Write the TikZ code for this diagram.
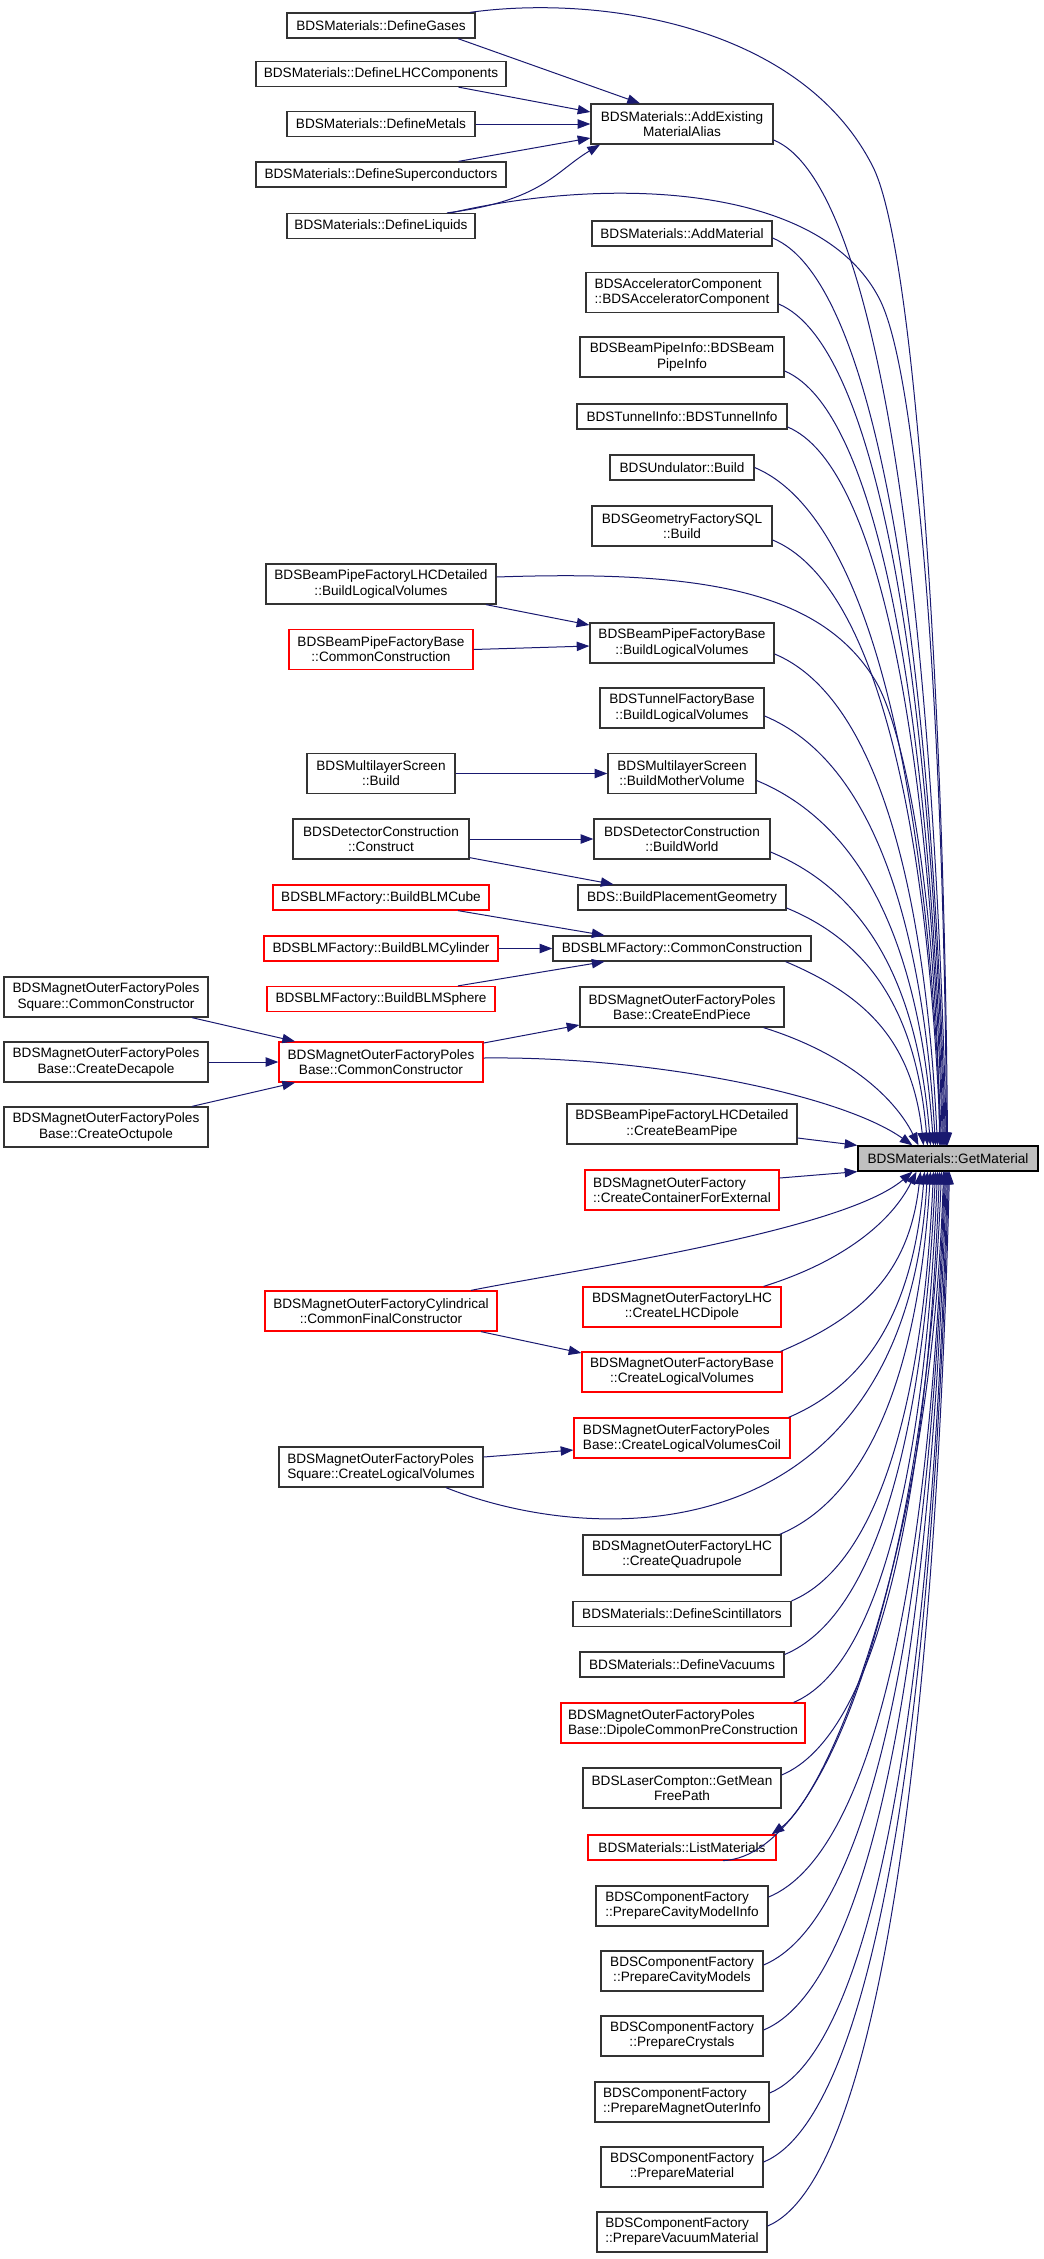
\documentclass[tikz,border=0pt]{standalone}
\usepackage{fontspec}
\setmainfont{Liberation Sans}
\usetikzlibrary{arrows.meta,calc}
\definecolor{mblue}{RGB}{25,25,112}
\newcommand\dfont{\fontsize{10.2}{11.3}\selectfont}
\tikzset{
  fn/.style={draw=black!80, line width=0.95pt, fill=white, inner sep=0pt, align=center, font=\dfont, text=black},
  rd/.style={fn, draw=red},
  sg/.style={minimum height=18.75pt},
  db/.style={minimum height=30pt},
  wd/.style={minimum width=#1*0.75pt},
  ed/.style={draw=mblue, line width=0.75pt, -{Triangle[length=9.5pt,width=7pt]}},
}
\begin{document}
\begin{tikzpicture}[x=0.75pt,y=-0.75pt]
\useasboundingbox (0,0) rectangle (1043,2259);
% ---- nodes
\node[fn,sg,wd=188] (dg) at (381,25.5) {BDSMaterials::DefineGases};
\node[fn,sg,wd=250] (dlhc) at (381,74) {BDSMaterials::DefineLHCComponents};
\node[fn,sg,wd=188] (dmet) at (381,124) {BDSMaterials::DefineMetals};
\node[fn,sg,wd=250] (dsup) at (381,174.5) {BDSMaterials::DefineSuperconductors};
\node[fn,sg,wd=188] (dliq) at (381,226) {BDSMaterials::DefineLiquids};
\node[fn,db,wd=182] (ae) at (682,124) {BDSMaterials::AddExisting\\MaterialAlias};
\node[fn,sg,wd=180] (am) at (682,233.5) {BDSMaterials::AddMaterial};
\node[fn,db,wd=192,align=left] (acc) at (682,292.5) {BDSAcceleratorComponent\\::BDSAcceleratorComponent};
\node[fn,db,wd=204] (bpi) at (682,357) {BDSBeamPipeInfo::BDSBeam\\PipeInfo};
\node[fn,sg,wd=210] (ti) at (682,416.5) {BDSTunnelInfo::BDSTunnelInfo};
\node[fn,sg,wd=144] (und) at (682,467.5) {BDSUndulator::Build};
\node[fn,db,wd=180] (gsql) at (682,526) {BDSGeometryFactorySQL\\::Build};
\node[fn,db,wd=230] (lhcblv) at (381,584) {BDSBeamPipeFactoryLHCDetailed\\::BuildLogicalVolumes};
\node[rd,db,wd=184] (bpfcc) at (381,649.5) {BDSBeamPipeFactoryBase\\::CommonConstruction};
\node[fn,db,wd=184] (bpfb) at (682,643) {BDSBeamPipeFactoryBase\\::BuildLogicalVolumes};
\node[fn,db,wd=164] (tfb) at (682,708) {BDSTunnelFactoryBase\\::BuildLogicalVolumes};
\node[fn,db,wd=148] (mlsb) at (381,773.5) {BDSMultilayerScreen\\::Build};
\node[fn,db,wd=148] (mlsbmv) at (682,773.5) {BDSMultilayerScreen\\::BuildMotherVolume};
\node[fn,db,wd=176] (dcc) at (381,839) {BDSDetectorConstruction\\::Construct};
\node[fn,db,wd=176] (bw) at (682,839) {BDSDetectorConstruction\\::BuildWorld};
\node[rd,sg,wd=216] (cube) at (381,897.5) {BDSBLMFactory::BuildBLMCube};
\node[fn,sg,wd=208] (bpg) at (682,897.5) {BDS::BuildPlacementGeometry};
\node[rd,sg,wd=234] (cyl) at (381,948.5) {BDSBLMFactory::BuildBLMCylinder};
\node[fn,sg,wd=258] (blmcc) at (682,948.5) {BDSBLMFactory::CommonConstruction};
\node[rd,sg,wd=228] (sph) at (381,999) {BDSBLMFactory::BuildBLMSphere};
\node[fn,db,wd=204] (sqcc) at (106,997) {BDSMagnetOuterFactoryPoles\\Square::CommonConstructor};
\node[fn,db,wd=204] (dec) at (106,1062) {BDSMagnetOuterFactoryPoles\\Base::CreateDecapole};
\node[fn,db,wd=204] (oct) at (106,1127) {BDSMagnetOuterFactoryPoles\\Base::CreateOctupole};
\node[rd,db,wd=204] (mopcc) at (381,1062) {BDSMagnetOuterFactoryPoles\\Base::CommonConstructor};
\node[fn,db,wd=204] (cep) at (682,1007) {BDSMagnetOuterFactoryPoles\\Base::CreateEndPiece};
\node[fn,db,wd=230] (cbp) at (682,1124) {BDSBeamPipeFactoryLHCDetailed\\::CreateBeamPipe};
\node[fn,sg,wd=180,draw=black,fill={rgb,255:red,191;green,191;blue,191}] (gm) at (948,1158.5) {BDSMaterials::GetMaterial};
\node[rd,db,wd=194,align=left] (ccfe) at (682,1190) {BDSMagnetOuterFactory\\::CreateContainerForExternal};
\node[rd,db,wd=232] (cfc) at (381,1311) {BDSMagnetOuterFactoryCylindrical\\::CommonFinalConstructor};
\node[rd,db,wd=198] (lhcd) at (682,1307) {BDSMagnetOuterFactoryLHC\\::CreateLHCDipole};
\node[rd,db,wd=200] (mofbclv) at (682,1372) {BDSMagnetOuterFactoryBase\\::CreateLogicalVolumes};
\node[rd,db,wd=216,align=left] (clvc) at (682,1438) {BDSMagnetOuterFactoryPoles\\Base::CreateLogicalVolumesCoil};
\node[fn,db,wd=204,align=left] (sqclv) at (381,1467) {BDSMagnetOuterFactoryPoles\\Square::CreateLogicalVolumes};
\node[fn,db,wd=198] (cq) at (682,1555) {BDSMagnetOuterFactoryLHC\\::CreateQuadrupole};
\node[fn,sg,wd=218] (dsc) at (682,1614) {BDSMaterials::DefineScintillators};
\node[fn,sg,wd=204] (dvac) at (682,1664.5) {BDSMaterials::DefineVacuums};
\node[rd,db,wd=244,align=left] (dcpc) at (683,1723) {BDSMagnetOuterFactoryPoles\\Base::DipoleCommonPreConstruction};
\node[fn,db,wd=198] (gmfp) at (682,1788) {BDSLaserCompton::GetMean\\FreePath};
\node[rd,sg,wd=188] (lm) at (682,1847.5) {BDSMaterials::ListMaterials};
\node[fn,db,wd=172,align=left] (pcmi) at (682,1906) {BDSComponentFactory\\::PrepareCavityModelInfo};
\node[fn,db,wd=162] (pcm) at (682,1971) {BDSComponentFactory\\::PrepareCavityModels};
\node[fn,db,wd=162] (pcr) at (682,2036) {BDSComponentFactory\\::PrepareCrystals};
\node[fn,db,wd=174,align=left] (pmoi) at (682,2102) {BDSComponentFactory\\::PrepareMagnetOuterInfo};
\node[fn,db,wd=162] (pmat) at (682,2167) {BDSComponentFactory\\::PrepareMaterial};
\node[fn,db,wd=170,align=left] (pvm) at (682,2232) {BDSComponentFactory\\::PrepareVacuumMaterial};
% ---- edges into AddExistingMaterialAlias
\draw[ed] ($(dg.south)+(77,0)$) -- ($(ae.north)+(-42,0)$);
\draw[ed] ($(dlhc.south)+(77.5,0)$) -- ($(ae.west)+(0,-12)$);
\draw[ed] (dmet.east) -- (ae.west);
\draw[ed] ($(dsup.north)+(77.5,0)$) -- ($(ae.west)+(0,14)$);
\draw[ed] ($(dliq.north)+(66,0)$) .. controls +(95,-12) and +(-45,27) .. ($(ae.south)+(-82,0)$);
% ---- long edges from the left column
\draw[ed] ($(dg.north)+(89,0)$) .. controls +(130,-18) and +(-72,-140) .. (872,165) .. controls +(43,80) and +(-3,-446) .. ($(gm.north)+(-0.5,0)$);
\draw[ed] ($(dliq.north)+(70,0)$) .. controls +(149,-35) and +(-60,-120) .. (880,300) .. controls +(40,80) and +(-2,-396) .. ($(gm.north)+(-1.5,0)$);
\draw[ed] ($(lhcblv.east)+(0,-7)$) .. controls +(204,-7) and +(-55,-90) .. (875,680) .. controls +(30,50) and +(-2,-246) .. ($(gm.north)+(-8.5,0)$);
% ---- middle column, above
\draw[ed] ($(ae.east)+(0,16)$) .. controls +(104,43) and +(-14,-553) .. ($(gm.north)+(-1.5,0)$);
\draw[ed] ($(am.east)+(0,4.5)$) .. controls +(104,43) and +(-14,-500) .. ($(gm.north)+(-2.5,0)$);
\draw[ed] ($(acc.east)+(0,11.5)$) .. controls +(100,42) and +(-13,-463) .. ($(gm.north)+(-3.5,0)$);
\draw[ed] ($(bpi.east)+(0,14)$) .. controls +(95,40) and +(-13,-426) .. ($(gm.north)+(-4.5,0)$);
\draw[ed] ($(ti.east)+(0,10.5)$) .. controls +(93,39) and +(-12,-395) .. ($(gm.north)+(-5.5,0)$);
\draw[ed] (und.east) .. controls +(112,47) and +(-15,-373) .. ($(gm.north)+(-6.5,0)$);
\draw[ed] ($(gsql.east)+(0,14)$) .. controls +(101,42) and +(-13,-333) .. ($(gm.north)+(-7.5,0)$);
\draw[ed] ($(bpfb.east)+(0,11)$) .. controls +(98,41) and +(-13,-271) .. ($(gm.north)+(-10.5,0)$);
\draw[ed] ($(tfb.east)+(0,8)$) .. controls +(103,43) and +(-14,-237) .. ($(gm.north)+(-12.5,0)$);
\draw[ed] ($(mlsbmv.east)+(0,7)$) .. controls +(106,44) and +(-14,-201) .. ($(gm.north)+(-14.5,0)$);
\draw[ed] ($(bw.east)+(0,13)$) .. controls +(96,40) and +(-13,-162) .. ($(gm.north)+(-17.5,0)$);
\draw[ed] ($(bpg.east)+(0,10.5)$) .. controls +(85,35) and +(-11,-131) .. ($(gm.north)+(-20.5,0)$);
\draw[ed] ($(blmcc.south east)+(-26,0)$) .. controls +(83,35) and +(-11,-102) .. ($(gm.north)+(-24.5,0)$);
\draw[ed] ($(cep.south east)+(-21,0)$) .. controls +(80,25) and +(-25,-50) .. ($(gm.north)+(-29.5,0)$);
\draw[ed] ($(mopcc.east)+(0,-4)$) .. controls +(167,-2) and +(-72,-51) .. ($(gm.north)+(-35.5,0)$);
\draw[ed] ($(cbp.east)+(0,14)$) -- (gm.north west);
\draw[ed] ($(ccfe.east)+(0,-12)$) -- (gm.south west);
% ---- below
\draw[ed] ($(cfc.north)+(90,0)$) .. controls +(100,-20) and +(-70,60) .. ($(gm.south)+(-35.5,0)$);
\draw[ed] ($(lhcd.north east)+(-18,0)$) .. controls +(80,-25) and +(-25,50) .. ($(gm.south)+(-31.5,0)$);
\draw[ed] ($(mofbclv.north east)+(-2,0)$) .. controls +(83,-35) and +(-11,100) .. ($(gm.south)+(-27.5,0)$);
\draw[ed] ($(clvc.north east)+(-2,0)$) .. controls +(80,-34) and +(-11,136) .. ($(gm.south)+(-23.5,0)$);
\draw[ed] ($(sqclv.south)+(65,0)$) .. controls +(155,62) and +(-22,380) .. ($(gm.south)+(-20.5,0)$);
\draw[ed] ($(cq.north east)+(-2,0)$) .. controls +(89,-37) and +(-12,200) .. ($(gm.south)+(-17.5,0)$);
\draw[ed] (dsc.north east) .. controls +(85,-36) and +(-11,237) .. ($(gm.south)+(-14.5,0)$);
\draw[ed] ($(dvac.east)+(0,-10)$) .. controls +(91,-38) and +(-12,265) .. ($(gm.south)+(-12.5,0)$);
\draw[ed] ($(dcpc.north east)+(-12,0)$) .. controls +(86,-36) and +(-12,293) .. ($(gm.south)+(-10.5,0)$);
\draw[ed] ($(gmfp.east)+(0,-13)$) .. controls +(95,-40) and +(-13,332) .. ($(gm.south)+(-8.5,0)$);
\draw[ed] ($(lm.south)+(41,0)$) .. controls +(110,-5) and +(-15,380) .. ($(gm.south)+(-6.5,0)$);
\draw[ed] ($(gm.south)+(-4.5,0)$) .. controls +(-10,380) and +(55,-40) .. ($(lm.north east)+(-5,0)$);
\draw[ed] ($(pcmi.east)+(0,-9)$) .. controls +(106,-44) and +(-14,399) .. ($(gm.south)+(-3.5,0)$);
\draw[ed] ($(pcm.east)+(0,-6)$) .. controls +(109,-46) and +(-15,437) .. ($(gm.south)+(-2.5,0)$);
\draw[ed] ($(pcr.east)+(0,-6)$) .. controls +(110,-46) and +(-15,472) .. ($(gm.south)+(-1.5,0)$);
\draw[ed] ($(pmoi.east)+(0,-9)$) .. controls +(107,-45) and +(-14,507) .. ($(gm.south)+(-0.5,0)$);
\draw[ed] ($(pmat.east)+(0,-5)$) .. controls +(111,-46) and +(-15,545) .. ($(gm.south)+(0.5,0)$);
\draw[ed] ($(pvm.east)+(0,-6)$) .. controls +(109,-46) and +(-15,580) .. ($(gm.south)+(1.5,0)$);
% ---- left-side short edges
\draw[ed] ($(lhcblv.south)+(105,0)$) -- ($(bpfb.west)+(0,-18)$);
\draw[ed] (bpfcc.east) -- ($(bpfb.west)+(0,3)$);
\draw[ed] (mlsb.east) -- (mlsbmv.west);
\draw[ed] (dcc.east) -- (bw.west);
\draw[ed] ($(dcc.south east)+(0,-2)$) -- ($(bpg.north)+(-68.5,0)$);
\draw[ed] ($(cube.south)+(77,0)$) -- ($(blmcc.north)+(-77.5,0)$);
\draw[ed] (cyl.east) -- (blmcc.west);
\draw[ed] ($(sph.north)+(77,0)$) -- ($(blmcc.south)+(-77.5,0)$);
\draw[ed] ($(sqcc.south)+(86,0)$) -- ($(mopcc.north)+(-86,0)$);
\draw[ed] (dec.east) -- (mopcc.west);
\draw[ed] ($(oct.north)+(86,0)$) -- ($(mopcc.south)+(-86,0)$);
\draw[ed] ($(mopcc.east)+(0,-19)$) -- ($(cep.west)+(0,18)$);
\draw[ed] ($(cfc.south)+(100,0)$) -- ($(mofbclv.west)+(0,-19)$);
\draw[ed] ($(sqclv.east)+(0,-10)$) -- ($(clvc.west)+(0,12)$);
\end{tikzpicture}
\end{document}
